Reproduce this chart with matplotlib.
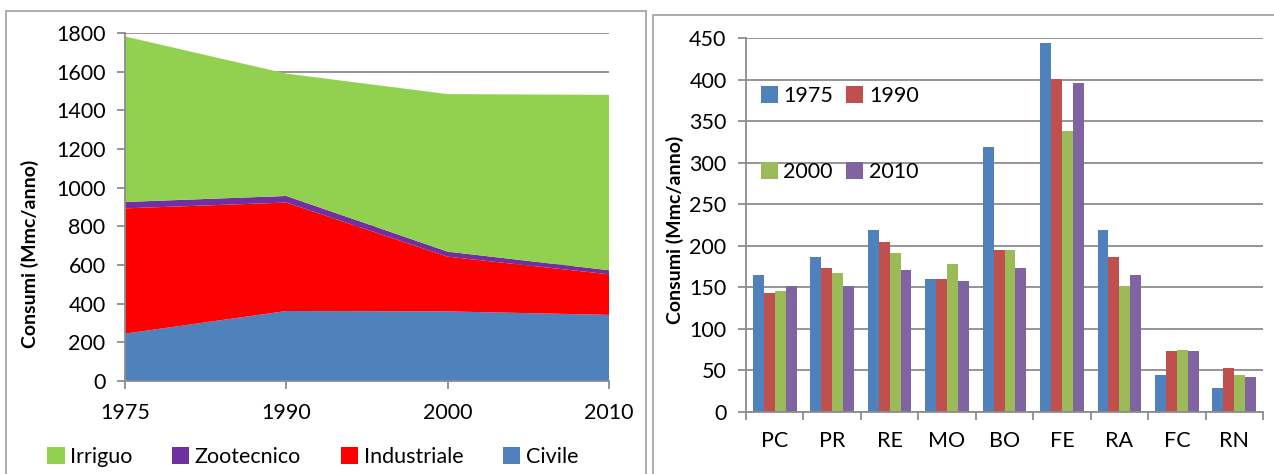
import numpy as np
import matplotlib.pyplot as plt
from matplotlib.patches import Rectangle

plt.rcParams['font.family'] = ['Lato', 'DejaVu Sans']

# consumi per settore (Mmc/anno)
anni = ['1975', '1990', '2000', '2010']
civile = [245, 362, 360, 342]
industriale = [648, 561, 283, 210]
zootecnico = [33, 34, 26, 21]
irriguo = [856, 633, 815, 907]

# consumi per provincia (Mmc/anno)
province = ['PC', 'PR', 'RE', 'MO', 'BO', 'FE', 'RA', 'FC', 'RN']
c1975 = [165, 186, 219, 160, 319, 444, 219, 44, 29]
c1990 = [143, 173, 204, 160, 195, 401, 186, 73, 53]
c2000 = [145, 167, 191, 178, 195, 338, 152, 75, 44]
c2010 = [152, 152, 171, 158, 173, 396, 165, 73, 42]

grid_col = '#8c8c8c'
fs = 15.5

fig = plt.figure(figsize=(12.74, 4.74), dpi=100)

# cornici dei due pannelli
fig.add_artist(Rectangle((6/1274, -0.02), 640/1274, 1.02 - 11/474, transform=fig.transFigure,
                         fill=False, edgecolor='#a0a0a0', lw=1.2))
fig.add_artist(Rectangle((653/1274, -0.02), 0.5, 1.02 - 15/474, transform=fig.transFigure,
                         fill=False, edgecolor='#a0a0a0', lw=1.2))


def style_axes(ax):
    for s in ['top', 'right']:
        ax.spines[s].set_visible(False)
    for s in ['left', 'bottom']:
        ax.spines[s].set_color(grid_col)
        ax.spines[s].set_linewidth(1.3)
    ax.tick_params(axis='both', colors=grid_col, labelcolor='black', labelsize=fs,
                   length=6, width=1.3, direction='out')
    ax.tick_params(axis='y', pad=8)
    ax.yaxis.grid(True, color=grid_col, lw=1.3)
    ax.set_axisbelow(True)
    ax.set_ylabel('Consumi (Mmc/anno)', fontsize=14, fontweight='bold')


# --- grafico ad aree impilate ---
ax1 = fig.add_axes([125/1274, 93/474, 484/1274, 348/474])
x = np.arange(len(anni))
ax1.stackplot(x, civile, industriale, zootecnico, irriguo,
              colors=['#4F81BD', '#FF0000', '#7030A0', '#92D050'],
              labels=['Civile', 'Industriale', 'Zootecnico', 'Irriguo'], zorder=2)
ax1.set_xlim(0, 3)
ax1.set_ylim(0, 1800)
ax1.set_yticks(np.arange(0, 1801, 200))
ax1.set_xticks(x)
ax1.set_xticklabels(anni)
style_axes(ax1)
ax1.yaxis.set_label_coords(-0.177, 0.365)
ax1.tick_params(axis='x', pad=10)
h, l = ax1.get_legend_handles_labels()
ax1.legend(h[::-1], l[::-1], ncol=4, loc='upper left', bbox_to_anchor=(-0.178, -0.165),
           frameon=False, fontsize=fs, handlelength=0.8, handleheight=0.8,
           handletextpad=0.25, columnspacing=1.85, borderaxespad=0)

# --- grafico a barre per provincia ---
ax2 = fig.add_axes([746/1274, 62/474, 517/1274, 374/474])
xp = np.arange(len(province))
w = 0.19
serie = [('1975', c1975, '#4F81BD'), ('1990', c1990, '#C0504D'),
         ('2000', c2000, '#9BBB59'), ('2010', c2010, '#8064A2')]
for i, (lab, vals, col) in enumerate(serie):
    ax2.bar(xp + (i - 1.5) * w, vals, w, color=col, label=lab, zorder=2)
ax2.set_xlim(-0.5, len(province) - 0.5)
ax2.set_ylim(0, 450)
ax2.set_yticks(np.arange(0, 451, 50))
ax2.set_xticks(xp)
ax2.set_xticklabels(province)
ax2.set_xticks(np.arange(-0.5, len(province)), minor=True)
style_axes(ax2)
ax2.yaxis.set_label_coords(-0.12, 0.487)
ax2.tick_params(axis='x', which='major', length=0, pad=14)
ax2.tick_params(axis='x', which='minor', length=6, width=1.3, colors=grid_col)
# legenda su due righe: 1975 1990 / 2000 2010
h, l = ax2.get_legend_handles_labels()
order = [0, 2, 1, 3]
ax2.legend([h[i] for i in order], [l[i] for i in order], ncol=2, loc='upper left',
           bbox_to_anchor=(0.012, 0.895), frameon=False, fontsize=fs,
           handlelength=0.8, handleheight=0.8, handletextpad=0.25,
           columnspacing=0.6, labelspacing=2.6, borderaxespad=0)

fig.savefig('out.png', dpi=100)
